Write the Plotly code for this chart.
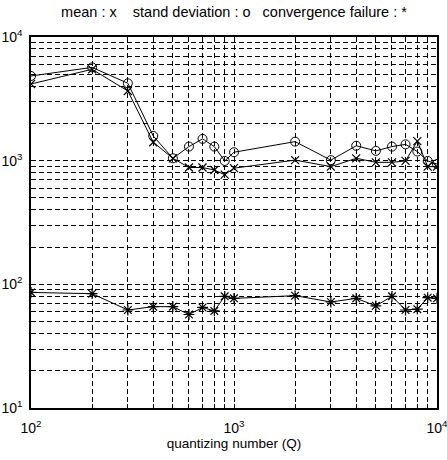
import plotly.graph_objects as go

# Data
q = [100, 200, 300, 400, 500, 600, 700, 800, 900, 1000,
     2000, 3000, 4000, 5000, 6000, 7000, 8000, 9000, 10000]
mean_vals = [4170, 5480, 3660, 1410, 1045, 880, 880, 840, 770, 870,
             1010, 895, 1045, 970, 970, 995, 1440, 895, 895]
std_vals = [4840, 5680, 4225, 1585, 1045, 1300, 1500, 1300, 995, 1170,
            1425, 1010, 1320, 1200, 1300, 1355, 1185, 995, 940]
fail_vals = [86, 84, 62, 66, 66, 57, 65, 61, 80, 77,
             81, 72, 77, 67, 80, 62, 63, 78, 77]

x_tickvals = [100, 200, 300, 400, 500, 600, 700, 800, 900, 1000,
              2000, 3000, 4000, 5000, 6000, 7000, 8000, 9000, 10000]
x_ticktext = ["10<sup>2</sup>", "", "", "", "", "", "", "", "", "10<sup>3</sup>",
              "", "", "", "", "", "", "", "", "10<sup>4</sup>"]
y_tickvals = [10, 20, 30, 40, 50, 60, 70, 80, 90,
              100, 200, 300, 400, 500, 600, 700, 800, 900,
              1000, 2000, 3000, 4000, 5000, 6000, 7000, 8000, 9000, 10000]
y_ticktext = ["10<sup>1</sup>", "", "", "", "", "", "", "", "",
              "10<sup>2</sup>", "", "", "", "", "", "", "", "",
              "10<sup>3</sup>", "", "", "", "", "", "", "", "",
              "10<sup>4</sup>"]

title_text = "mean : x    stand deviation : o   convergence failure : *"
x_title = "quantizing number (Q)"

FONT = "Liberation Sans, Arial, sans-serif"

fig = go.Figure()
fig.add_trace(go.Scatter(
    x=q, y=mean_vals, mode="lines+markers", name="mean",
    line=dict(color="black", width=1),
    marker=dict(symbol="x-thin-open", size=8, color="black",
                line=dict(color="black", width=1.2)),
))
fig.add_trace(go.Scatter(
    x=q, y=std_vals, mode="lines+markers", name="stand deviation",
    line=dict(color="black", width=1),
    marker=dict(symbol="circle-open", size=9, color="black",
                line=dict(color="black", width=1)),
))
fig.add_trace(go.Scatter(
    x=q, y=fail_vals, mode="lines+markers", name="convergence failure",
    line=dict(color="black", width=1),
    marker=dict(symbol="asterisk-open", size=9, color="black",
                line=dict(color="black", width=1.2)),
))

axis_common = dict(
    showgrid=True, gridcolor="black", gridwidth=1, griddash="5px,3px",
    showline=True, linecolor="black", linewidth=1.5, mirror=True,
    ticks="inside", ticklen=4, tickcolor="black",
    tickmode="array", zeroline=False, automargin=False,
    ticklabeloverflow="allow",
    tickfont=dict(family=FONT, size=14, color="black"),
)

fig.update_layout(
    width=447, height=460,
    margin=dict(l=31, r=10, t=37, b=52),
    paper_bgcolor="white", plot_bgcolor="white",
    showlegend=False,
    font=dict(family=FONT, color="black"),
    title=dict(text=title_text, x=0.5, xanchor="center", xref="paper",
               y=1 - 12 / 460, yref="container", yanchor="middle",
               font=dict(family=FONT, size=14.5, color="black")),
    xaxis=dict(type="log", range=[2, 4], tickvals=x_tickvals, ticktext=x_ticktext,
               ticklabelstandoff=6,
               title=dict(text=x_title, font=dict(family=FONT, size=13.5, color="black"),
                          standoff=4),
               **axis_common),
    yaxis=dict(type="log", range=[1, 4], tickvals=y_tickvals, ticktext=y_ticktext,
               ticklabelstandoff=4,
               **axis_common),
)

fig.write_html("out.html",
               config={"displayModeBar": False},
               post_script="document.body.style.margin='0';document.body.style.overflow='hidden';")
